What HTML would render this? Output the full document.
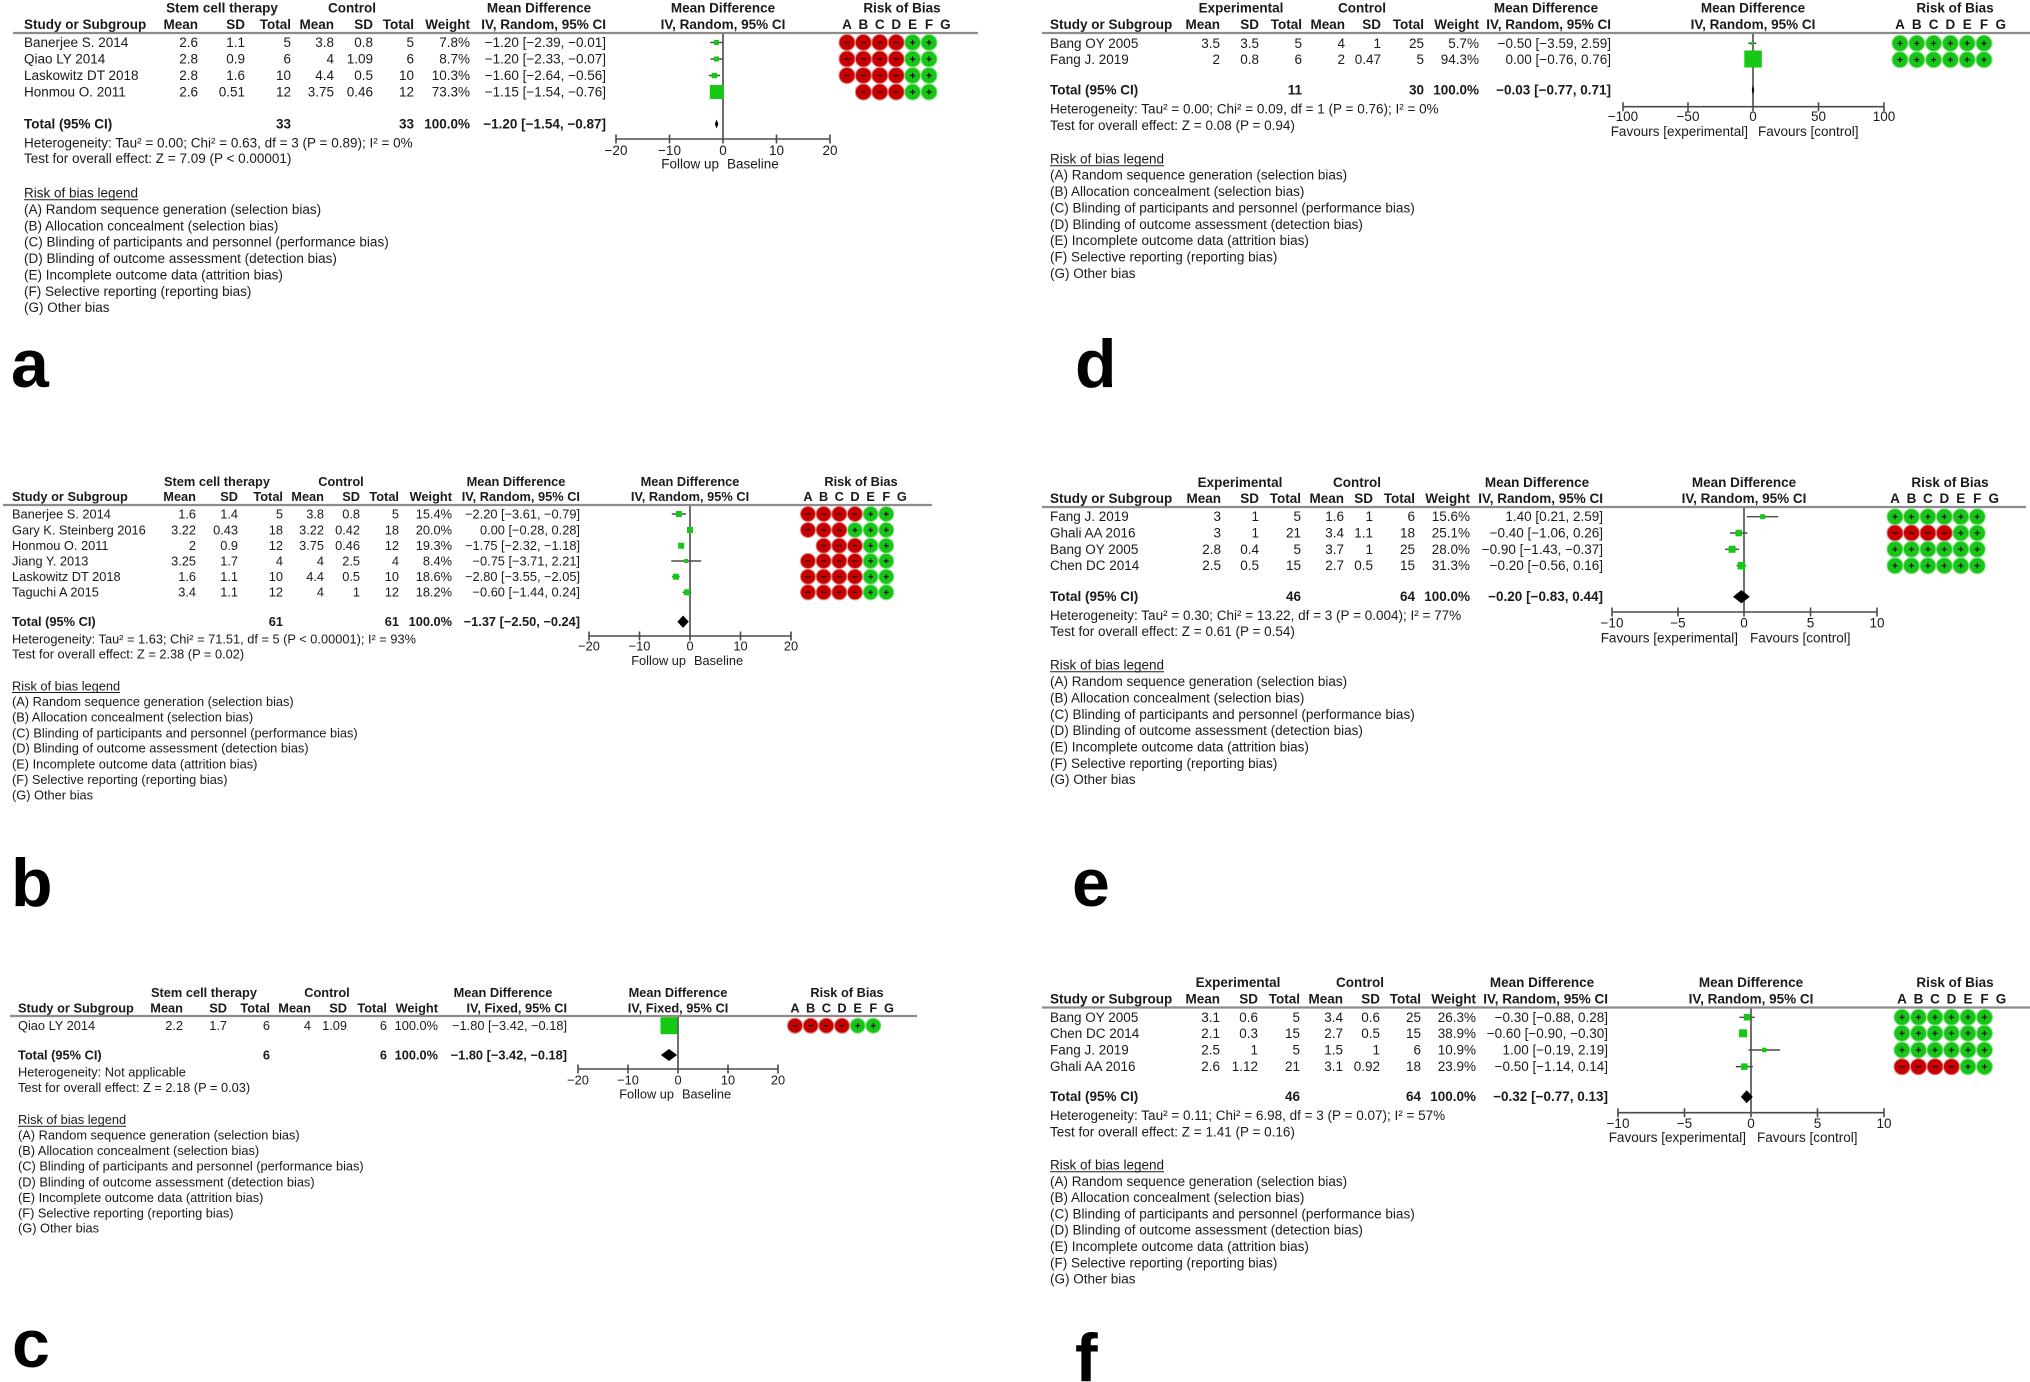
<!DOCTYPE html>
<html>
<head>
<meta charset="utf-8">
<style>
html,body{margin:0;padding:0;background:#fff;}
svg{display:block;}
text{font-family:"Liberation Sans",Arial,sans-serif;fill:#1a1a1a;}
.h{font-weight:bold;}
.m{text-anchor:middle;}
.e{text-anchor:end;}
.big{font-weight:bold;font-size:68px;fill:#000;}
</style>
</head>
<body>
<svg width="2030" height="1382" viewBox="0 0 2030 1382" xmlns="http://www.w3.org/2000/svg">
<defs>
<g id="Ra"><circle r="8" fill="#c60000" stroke="#e08080" stroke-width="1"/><path d="M-2.6 0H2.6" stroke="#111" stroke-width="1.2"/></g>
<g id="Ga"><circle r="8" fill="#18c418" stroke="#86e486" stroke-width="1"/><path d="M-2.6 0H2.6M0 -2.6V2.6" stroke="#111" stroke-width="1.2"/></g>
<g id="Rb"><circle r="7.5" fill="#c60000" stroke="#e08080" stroke-width="1"/><path d="M-2.4 0H2.4" stroke="#111" stroke-width="1.2"/></g>
<g id="Gb"><circle r="7.5" fill="#18c418" stroke="#86e486" stroke-width="1"/><path d="M-2.4 0H2.4M0 -2.4V2.4" stroke="#111" stroke-width="1.2"/></g>
</defs>
<rect width="2030" height="1382" fill="#fff"/>

<!-- ================= PANEL A ================= -->
<g font-size="13.5">
<text class="h m" x="222" y="12.5">Stem cell therapy</text>
<text class="h m" x="352" y="12.5">Control</text>
<text class="h m" x="539" y="12.5">Mean Difference</text>
<text class="h m" x="723" y="12.5">Mean Difference</text>
<text class="h m" x="902" y="12.5">Risk of Bias</text>
<text class="h" x="24" y="28.8">Study or Subgroup</text>
<text class="h e" x="198" y="28.8">Mean</text>
<text class="h e" x="245" y="28.8">SD</text>
<text class="h e" x="291" y="28.8">Total</text>
<text class="h e" x="334" y="28.8">Mean</text>
<text class="h e" x="373" y="28.8">SD</text>
<text class="h e" x="414" y="28.8">Total</text>
<text class="h e" x="470" y="28.8">Weight</text>
<text class="h e" x="606" y="28.8">IV, Random, 95% CI</text>
<text class="h m" x="723" y="28.8">IV, Random, 95% CI</text>
<text class="h m" x="847" y="28.8">A</text><text class="h m" x="863.4" y="28.8">B</text><text class="h m" x="879.8" y="28.8">C</text><text class="h m" x="896.2" y="28.8">D</text><text class="h m" x="912.6" y="28.8">E</text><text class="h m" x="929" y="28.8">F</text><text class="h m" x="945.4" y="28.8">G</text>

<text x="24" y="47">Banerjee S. 2014</text><text class="e" x="198" y="47">2.6</text><text class="e" x="245" y="47">1.1</text><text class="e" x="291" y="47">5</text><text class="e" x="334" y="47">3.8</text><text class="e" x="373" y="47">0.8</text><text class="e" x="414" y="47">5</text><text class="e" x="470" y="47">7.8%</text><text class="e" x="606" y="47">−1.20 [−2.39, −0.01]</text>
<text x="24" y="63.5">Qiao LY 2014</text><text class="e" x="198" y="63.5">2.8</text><text class="e" x="245" y="63.5">0.9</text><text class="e" x="291" y="63.5">6</text><text class="e" x="334" y="63.5">4</text><text class="e" x="373" y="63.5">1.09</text><text class="e" x="414" y="63.5">6</text><text class="e" x="470" y="63.5">8.7%</text><text class="e" x="606" y="63.5">−1.20 [−2.33, −0.07]</text>
<text x="24" y="80">Laskowitz DT 2018</text><text class="e" x="198" y="80">2.8</text><text class="e" x="245" y="80">1.6</text><text class="e" x="291" y="80">10</text><text class="e" x="334" y="80">4.4</text><text class="e" x="373" y="80">0.5</text><text class="e" x="414" y="80">10</text><text class="e" x="470" y="80">10.3%</text><text class="e" x="606" y="80">−1.60 [−2.64, −0.56]</text>
<text x="24" y="96.5">Honmou O. 2011</text><text class="e" x="198" y="96.5">2.6</text><text class="e" x="245" y="96.5">0.51</text><text class="e" x="291" y="96.5">12</text><text class="e" x="334" y="96.5">3.75</text><text class="e" x="373" y="96.5">0.46</text><text class="e" x="414" y="96.5">12</text><text class="e" x="470" y="96.5">73.3%</text><text class="e" x="606" y="96.5">−1.15 [−1.54, −0.76]</text>
<text class="h" x="24" y="128.5">Total (95% CI)</text><text class="h e" x="291" y="128.5">33</text><text class="h e" x="414" y="128.5">33</text><text class="h e" x="470" y="128.5">100.0%</text><text class="h e" x="606" y="128.5">−1.20 [−1.54, −0.87]</text>
<text x="24" y="147.5">Heterogeneity: Tau² = 0.00; Chi² = 0.63, df = 3 (P = 0.89); I² = 0%</text>
<text x="24" y="163">Test for overall effect: Z = 7.09 (P &lt; 0.00001)</text>
<text class="m" x="616" y="155">−20</text><text class="m" x="669.5" y="155">−10</text><text class="m" x="723" y="155">0</text><text class="m" x="776.5" y="155">10</text><text class="m" x="830" y="155">20</text>
<text class="e" x="719" y="168.5">Follow up</text><text x="727" y="168.5">Baseline</text>
<text x="24" y="197.5">Risk of bias legend</text>
<text x="24" y="214">(A) Random sequence generation (selection bias)</text>
<text x="24" y="230.5">(B) Allocation concealment (selection bias)</text>
<text x="24" y="246.5">(C) Blinding of participants and personnel (performance bias)</text>
<text x="24" y="263">(D) Blinding of outcome assessment (detection bias)</text>
<text x="24" y="279.5">(E) Incomplete outcome data (attrition bias)</text>
<text x="24" y="296">(F) Selective reporting (reporting bias)</text>
<text x="24" y="312">(G) Other bias</text>
</g>
<path d="M24 199.8H138" stroke="#1a1a1a" stroke-width="1"/>
<path d="M13 33H978" stroke="#8c8c8c" stroke-width="2.2"/>
<path d="M723 34V139 M616 139H830 M616 134.5V143.5 M669.5 134.5V143.5 M723 134.5V143.5 M776.5 134.5V143.5 M830 134.5V143.5" stroke="#4a4a4a" stroke-width="1.6" fill="none"/>
<path d="M710.2 42.5H722.9 M710.5 59H722.6 M708.9 75.5H720" stroke="#4a4a4a" stroke-width="1.4"/>
<rect x="714" y="40" width="5" height="5" fill="#14c814"/>
<rect x="714" y="56.5" width="5" height="5" fill="#14c814"/>
<rect x="711.7" y="72.8" width="5.5" height="5.5" fill="#14c814"/>
<rect x="709.8" y="85" width="14" height="14" fill="#14c814"/>
<path d="M716.6 119.5L718.4 124L716.6 128.5L714.8 124Z" fill="#000"/>
<g>
<use href="#Ra" x="847" y="42.5"/><use href="#Ra" x="863.4" y="42.5"/><use href="#Ra" x="879.8" y="42.5"/><use href="#Ra" x="896.2" y="42.5"/><use href="#Ga" x="912.6" y="42.5"/><use href="#Ga" x="929" y="42.5"/>
<use href="#Ra" x="847" y="59"/><use href="#Ra" x="863.4" y="59"/><use href="#Ra" x="879.8" y="59"/><use href="#Ra" x="896.2" y="59"/><use href="#Ga" x="912.6" y="59"/><use href="#Ga" x="929" y="59"/>
<use href="#Ra" x="847" y="75.5"/><use href="#Ra" x="863.4" y="75.5"/><use href="#Ra" x="879.8" y="75.5"/><use href="#Ra" x="896.2" y="75.5"/><use href="#Ga" x="912.6" y="75.5"/><use href="#Ga" x="929" y="75.5"/>
<use href="#Ra" x="863.4" y="92"/><use href="#Ra" x="879.8" y="92"/><use href="#Ra" x="896.2" y="92"/><use href="#Ga" x="912.6" y="92"/><use href="#Ga" x="929" y="92"/>
</g>
<text class="big" x="11" y="387">a</text>

<!-- ================= PANEL D ================= -->
<g font-size="13.5">
<text class="h m" x="1241" y="12.5">Experimental</text>
<text class="h m" x="1362" y="12.5">Control</text>
<text class="h m" x="1546" y="12.5">Mean Difference</text>
<text class="h m" x="1753" y="12.5">Mean Difference</text>
<text class="h m" x="1955" y="12.5">Risk of Bias</text>
<text class="h" x="1050" y="28.8">Study or Subgroup</text>
<text class="h e" x="1220" y="28.8">Mean</text>
<text class="h e" x="1259" y="28.8">SD</text>
<text class="h e" x="1302" y="28.8">Total</text>
<text class="h e" x="1345" y="28.8">Mean</text>
<text class="h e" x="1381" y="28.8">SD</text>
<text class="h e" x="1424" y="28.8">Total</text>
<text class="h e" x="1479" y="28.8">Weight</text>
<text class="h e" x="1611" y="28.8">IV, Random, 95% CI</text>
<text class="h m" x="1753" y="28.8">IV, Random, 95% CI</text>
<text class="h m" x="1900" y="28.8">A</text><text class="h m" x="1916.8" y="28.8">B</text><text class="h m" x="1933.6" y="28.8">C</text><text class="h m" x="1950.4" y="28.8">D</text><text class="h m" x="1967.2" y="28.8">E</text><text class="h m" x="1984" y="28.8">F</text><text class="h m" x="2000.8" y="28.8">G</text>
<text x="1050" y="47.8">Bang OY  2005</text><text class="e" x="1220" y="47.8">3.5</text><text class="e" x="1259" y="47.8">3.5</text><text class="e" x="1302" y="47.8">5</text><text class="e" x="1345" y="47.8">4</text><text class="e" x="1381" y="47.8">1</text><text class="e" x="1424" y="47.8">25</text><text class="e" x="1479" y="47.8">5.7%</text><text class="e" x="1611" y="47.8">−0.50 [−3.59, 2.59]</text>
<text x="1050" y="64.2">Fang J. 2019</text><text class="e" x="1220" y="64.2">2</text><text class="e" x="1259" y="64.2">0.8</text><text class="e" x="1302" y="64.2">6</text><text class="e" x="1345" y="64.2">2</text><text class="e" x="1381" y="64.2">0.47</text><text class="e" x="1424" y="64.2">5</text><text class="e" x="1479" y="64.2">94.3%</text><text class="e" x="1611" y="64.2">0.00 [−0.76, 0.76]</text>
<text class="h" x="1050" y="94.5">Total (95% CI)</text><text class="h e" x="1302" y="94.5">11</text><text class="h e" x="1424" y="94.5">30</text><text class="h e" x="1479" y="94.5">100.0%</text><text class="h e" x="1611" y="94.5">−0.03 [−0.77, 0.71]</text>
<text x="1050" y="113.5">Heterogeneity: Tau² = 0.00; Chi² = 0.09, df = 1 (P = 0.76); I² = 0%</text>
<text x="1050" y="129.8">Test for overall effect: Z = 0.08 (P = 0.94)</text>
<text class="m" x="1623" y="121.2">−100</text><text class="m" x="1688" y="121.2">−50</text><text class="m" x="1753" y="121.2">0</text><text class="m" x="1818.5" y="121.2">50</text><text class="m" x="1884" y="121.2">100</text>
<text class="e" x="1748" y="136.2">Favours [experimental]</text><text x="1758" y="136.2">Favours [control]</text>
<text x="1050" y="163.5">Risk of bias legend</text>
<text x="1050" y="179.5">(A) Random sequence generation (selection bias)</text>
<text x="1050" y="196.2">(B) Allocation concealment (selection bias)</text>
<text x="1050" y="212.5">(C) Blinding of participants and personnel (performance bias)</text>
<text x="1050" y="228.8">(D) Blinding of outcome assessment (detection bias)</text>
<text x="1050" y="245.2">(E) Incomplete outcome data (attrition bias)</text>
<text x="1050" y="261.5">(F) Selective reporting (reporting bias)</text>
<text x="1050" y="277.8">(G) Other bias</text>
</g>
<path d="M1050 165.8H1164" stroke="#1a1a1a" stroke-width="1"/>
<path d="M1042 33H2030" stroke="#8c8c8c" stroke-width="2.2"/>
<path d="M1753 34V106.7 M1623 106.7H1884 M1623 102.2V111.2 M1688 102.2V111.2 M1753 102.2V111.2 M1818.5 102.2V111.2 M1884 102.2V111.2" stroke="#4a4a4a" stroke-width="1.6" fill="none"/>
<path d="M1748.3 43.3H1756.4" stroke="#4a4a4a" stroke-width="1.4"/>
<rect x="1750.8" y="41.8" width="3" height="3" fill="#14c814"/>
<rect x="1744.3" y="50.5" width="17.5" height="17" fill="#14c814"/>
<path d="M1753 85L1754.2 90L1753 95L1751.8 90Z" fill="#000"/>
<g>
<use href="#Ga" x="1900" y="43.3"/><use href="#Ga" x="1916.8" y="43.3"/><use href="#Ga" x="1933.6" y="43.3"/><use href="#Ga" x="1950.4" y="43.3"/><use href="#Ga" x="1967.2" y="43.3"/><use href="#Ga" x="1984" y="43.3"/>
<use href="#Ga" x="1900" y="59.7"/><use href="#Ga" x="1916.8" y="59.7"/><use href="#Ga" x="1933.6" y="59.7"/><use href="#Ga" x="1950.4" y="59.7"/><use href="#Ga" x="1967.2" y="59.7"/><use href="#Ga" x="1984" y="59.7"/>
</g>
<text class="big" x="1075" y="387">d</text>

<!-- ================= PANEL B ================= -->
<g font-size="12.8">
<text class="h m" x="217" y="486">Stem cell therapy</text>
<text class="h m" x="341" y="486">Control</text>
<text class="h m" x="516" y="486">Mean Difference</text>
<text class="h m" x="690" y="486">Mean Difference</text>
<text class="h m" x="861" y="486">Risk of Bias</text>
<text class="h" x="12" y="501">Study or Subgroup</text>
<text class="h e" x="196" y="501">Mean</text>
<text class="h e" x="238" y="501">SD</text>
<text class="h e" x="283" y="501">Total</text>
<text class="h e" x="324" y="501">Mean</text>
<text class="h e" x="360" y="501">SD</text>
<text class="h e" x="399" y="501">Total</text>
<text class="h e" x="452" y="501">Weight</text>
<text class="h e" x="580" y="501">IV, Random, 95% CI</text>
<text class="h m" x="690" y="501">IV, Random, 95% CI</text>
<text class="h m" x="808" y="501">A</text><text class="h m" x="823.65" y="501">B</text><text class="h m" x="839.3" y="501">C</text><text class="h m" x="854.95" y="501">D</text><text class="h m" x="870.6" y="501">E</text><text class="h m" x="886.25" y="501">F</text><text class="h m" x="901.9" y="501">G</text>
<text x="12" y="518.3">Banerjee S. 2014</text><text class="e" x="196" y="518.3">1.6</text><text class="e" x="238" y="518.3">1.4</text><text class="e" x="283" y="518.3">5</text><text class="e" x="324" y="518.3">3.8</text><text class="e" x="360" y="518.3">0.8</text><text class="e" x="399" y="518.3">5</text><text class="e" x="452" y="518.3">15.4%</text><text class="e" x="580" y="518.3">−2.20 [−3.61, −0.79]</text>
<text x="12" y="534.3">Gary K. Steinberg 2016</text><text class="e" x="196" y="534.3">3.22</text><text class="e" x="238" y="534.3">0.43</text><text class="e" x="283" y="534.3">18</text><text class="e" x="324" y="534.3">3.22</text><text class="e" x="360" y="534.3">0.42</text><text class="e" x="399" y="534.3">18</text><text class="e" x="452" y="534.3">20.0%</text><text class="e" x="580" y="534.3">0.00 [−0.28, 0.28]</text>
<text x="12" y="550">Honmou O. 2011</text><text class="e" x="196" y="550">2</text><text class="e" x="238" y="550">0.9</text><text class="e" x="283" y="550">12</text><text class="e" x="324" y="550">3.75</text><text class="e" x="360" y="550">0.46</text><text class="e" x="399" y="550">12</text><text class="e" x="452" y="550">19.3%</text><text class="e" x="580" y="550">−1.75 [−2.32, −1.18]</text>
<text x="12" y="565.3">Jiang Y. 2013</text><text class="e" x="196" y="565.3">3.25</text><text class="e" x="238" y="565.3">1.7</text><text class="e" x="283" y="565.3">4</text><text class="e" x="324" y="565.3">4</text><text class="e" x="360" y="565.3">2.5</text><text class="e" x="399" y="565.3">4</text><text class="e" x="452" y="565.3">8.4%</text><text class="e" x="580" y="565.3">−0.75 [−3.71, 2.21]</text>
<text x="12" y="581">Laskowitz DT 2018</text><text class="e" x="196" y="581">1.6</text><text class="e" x="238" y="581">1.1</text><text class="e" x="283" y="581">10</text><text class="e" x="324" y="581">4.4</text><text class="e" x="360" y="581">0.5</text><text class="e" x="399" y="581">10</text><text class="e" x="452" y="581">18.6%</text><text class="e" x="580" y="581">−2.80 [−3.55, −2.05]</text>
<text x="12" y="596.6">Taguchi A 2015</text><text class="e" x="196" y="596.6">3.4</text><text class="e" x="238" y="596.6">1.1</text><text class="e" x="283" y="596.6">12</text><text class="e" x="324" y="596.6">4</text><text class="e" x="360" y="596.6">1</text><text class="e" x="399" y="596.6">12</text><text class="e" x="452" y="596.6">18.2%</text><text class="e" x="580" y="596.6">−0.60 [−1.44, 0.24]</text>
<text class="h" x="12" y="626">Total (95% CI)</text><text class="h e" x="283" y="626">61</text><text class="h e" x="399" y="626">61</text><text class="h e" x="452" y="626">100.0%</text><text class="h e" x="580" y="626">−1.37 [−2.50, −0.24]</text>
<text x="12" y="643.6">Heterogeneity: Tau² = 1.63; Chi² = 71.51, df = 5 (P &lt; 0.00001); I² = 93%</text>
<text x="12" y="658.6">Test for overall effect: Z = 2.38 (P = 0.02)</text>
<text class="m" x="589" y="650.3">−20</text><text class="m" x="639.5" y="650.3">−10</text><text class="m" x="690" y="650.3">0</text><text class="m" x="740.5" y="650.3">10</text><text class="m" x="791" y="650.3">20</text>
<text class="e" x="686" y="665">Follow up</text><text x="694" y="665">Baseline</text>
<text x="12" y="690.3">Risk of bias legend</text>
<text x="12" y="706">(A) Random sequence generation (selection bias)</text>
<text x="12" y="721.6">(B) Allocation concealment (selection bias)</text>
<text x="12" y="737.6">(C) Blinding of participants and personnel (performance bias)</text>
<text x="12" y="752.6">(D) Blinding of outcome assessment (detection bias)</text>
<text x="12" y="768.3">(E) Incomplete outcome data (attrition bias)</text>
<text x="12" y="784">(F) Selective reporting (reporting bias)</text>
<text x="12" y="799.3">(G) Other bias</text>
</g>
<path d="M12 692.5H120" stroke="#1a1a1a" stroke-width="1"/>
<path d="M3 505H932" stroke="#8c8c8c" stroke-width="2.2"/>
<path d="M690 506V636 M589 636H791 M589 631.5V640.5 M639.5 631.5V640.5 M690 631.5V640.5 M740.5 631.5V640.5 M791 631.5V640.5" stroke="#4a4a4a" stroke-width="1.6" fill="none"/>
<path d="M671.8 514H686 M688.6 530H691.4 M678.3 545.7H684 M671.3 561H701.2 M672.1 576.7H679.6 M682.7 592.3H691.2" stroke="#4a4a4a" stroke-width="1.4"/>
<rect x="675.9" y="511" width="6" height="6" fill="#14c814"/>
<rect x="687" y="527" width="6" height="6" fill="#14c814"/>
<rect x="678.2" y="542.7" width="6" height="6" fill="#14c814"/>
<rect x="684.2" y="559" width="4" height="4" fill="#14c814"/>
<rect x="672.9" y="573.7" width="6" height="6" fill="#14c814"/>
<rect x="684" y="589.3" width="6" height="6" fill="#14c814"/>
<path d="M683.1 615.5L688.8 621.7L683.1 627.9L677.4 621.7Z" fill="#000"/>
<g>
<use href="#Rb" x="808" y="514"/><use href="#Rb" x="823.65" y="514"/><use href="#Rb" x="839.3" y="514"/><use href="#Rb" x="854.95" y="514"/><use href="#Gb" x="870.6" y="514"/><use href="#Gb" x="886.25" y="514"/>
<use href="#Rb" x="808" y="530"/><use href="#Rb" x="823.65" y="530"/><use href="#Rb" x="839.3" y="530"/><use href="#Gb" x="854.95" y="530"/><use href="#Gb" x="870.6" y="530"/><use href="#Gb" x="886.25" y="530"/>
<use href="#Rb" x="823.65" y="545.7"/><use href="#Rb" x="839.3" y="545.7"/><use href="#Rb" x="854.95" y="545.7"/><use href="#Gb" x="870.6" y="545.7"/><use href="#Gb" x="886.25" y="545.7"/>
<use href="#Rb" x="808" y="561"/><use href="#Rb" x="823.65" y="561"/><use href="#Rb" x="839.3" y="561"/><use href="#Rb" x="854.95" y="561"/><use href="#Gb" x="870.6" y="561"/><use href="#Gb" x="886.25" y="561"/>
<use href="#Rb" x="808" y="576.7"/><use href="#Rb" x="823.65" y="576.7"/><use href="#Rb" x="839.3" y="576.7"/><use href="#Rb" x="854.95" y="576.7"/><use href="#Gb" x="870.6" y="576.7"/><use href="#Gb" x="886.25" y="576.7"/>
<use href="#Rb" x="808" y="592.3"/><use href="#Rb" x="823.65" y="592.3"/><use href="#Rb" x="839.3" y="592.3"/><use href="#Rb" x="854.95" y="592.3"/><use href="#Gb" x="870.6" y="592.3"/><use href="#Gb" x="886.25" y="592.3"/>
</g>
<text class="big" x="11" y="906">b</text>

<!-- ================= PANEL E ================= -->
<g font-size="13.5">
<text class="h m" x="1240" y="486.8">Experimental</text>
<text class="h m" x="1357" y="486.8">Control</text>
<text class="h m" x="1537" y="486.8">Mean Difference</text>
<text class="h m" x="1744" y="486.8">Mean Difference</text>
<text class="h m" x="1950" y="486.8">Risk of Bias</text>
<text class="h" x="1050" y="502.8">Study or Subgroup</text>
<text class="h e" x="1221" y="502.8">Mean</text>
<text class="h e" x="1259" y="502.8">SD</text>
<text class="h e" x="1301" y="502.8">Total</text>
<text class="h e" x="1344" y="502.8">Mean</text>
<text class="h e" x="1373" y="502.8">SD</text>
<text class="h e" x="1415" y="502.8">Total</text>
<text class="h e" x="1470" y="502.8">Weight</text>
<text class="h e" x="1603" y="502.8">IV, Random, 95% CI</text>
<text class="h m" x="1744" y="502.8">IV, Random, 95% CI</text>
<text class="h m" x="1895" y="502.8">A</text><text class="h m" x="1911.45" y="502.8">B</text><text class="h m" x="1927.9" y="502.8">C</text><text class="h m" x="1944.35" y="502.8">D</text><text class="h m" x="1960.8" y="502.8">E</text><text class="h m" x="1977.25" y="502.8">F</text><text class="h m" x="1993.7" y="502.8">G</text>
<text x="1050" y="521.2">Fang J. 2019</text><text class="e" x="1221" y="521.2">3</text><text class="e" x="1259" y="521.2">1</text><text class="e" x="1301" y="521.2">5</text><text class="e" x="1344" y="521.2">1.6</text><text class="e" x="1373" y="521.2">1</text><text class="e" x="1415" y="521.2">6</text><text class="e" x="1470" y="521.2">15.6%</text><text class="e" x="1603" y="521.2">1.40 [0.21, 2.59]</text>
<text x="1050" y="537.5">Ghali AA 2016</text><text class="e" x="1221" y="537.5">3</text><text class="e" x="1259" y="537.5">1</text><text class="e" x="1301" y="537.5">21</text><text class="e" x="1344" y="537.5">3.4</text><text class="e" x="1373" y="537.5">1.1</text><text class="e" x="1415" y="537.5">18</text><text class="e" x="1470" y="537.5">25.1%</text><text class="e" x="1603" y="537.5">−0.40 [−1.06, 0.26]</text>
<text x="1050" y="553.8">Bang OY  2005</text><text class="e" x="1221" y="553.8">2.8</text><text class="e" x="1259" y="553.8">0.4</text><text class="e" x="1301" y="553.8">5</text><text class="e" x="1344" y="553.8">3.7</text><text class="e" x="1373" y="553.8">1</text><text class="e" x="1415" y="553.8">25</text><text class="e" x="1470" y="553.8">28.0%</text><text class="e" x="1603" y="553.8">−0.90 [−1.43, −0.37]</text>
<text x="1050" y="570.2">Chen DC 2014</text><text class="e" x="1221" y="570.2">2.5</text><text class="e" x="1259" y="570.2">0.5</text><text class="e" x="1301" y="570.2">15</text><text class="e" x="1344" y="570.2">2.7</text><text class="e" x="1373" y="570.2">0.5</text><text class="e" x="1415" y="570.2">15</text><text class="e" x="1470" y="570.2">31.3%</text><text class="e" x="1603" y="570.2">−0.20 [−0.56, 0.16]</text>
<text class="h" x="1050" y="601.2">Total (95% CI)</text><text class="h e" x="1301" y="601.2">46</text><text class="h e" x="1415" y="601.2">64</text><text class="h e" x="1470" y="601.2">100.0%</text><text class="h e" x="1603" y="601.2">−0.20 [−0.83, 0.44]</text>
<text x="1050" y="619.8">Heterogeneity: Tau² = 0.30; Chi² = 13.22, df = 3 (P = 0.004); I² = 77%</text>
<text x="1050" y="636.2">Test for overall effect: Z = 0.61 (P = 0.54)</text>
<text class="m" x="1612" y="627.5">−10</text><text class="m" x="1678" y="627.5">−5</text><text class="m" x="1744" y="627.5">0</text><text class="m" x="1810.5" y="627.5">5</text><text class="m" x="1877" y="627.5">10</text>
<text class="e" x="1738" y="642.5">Favours [experimental]</text><text x="1750" y="642.5">Favours [control]</text>
<text x="1050" y="669.5">Risk of bias legend</text>
<text x="1050" y="686.2">(A) Random sequence generation (selection bias)</text>
<text x="1050" y="702.5">(B) Allocation concealment (selection bias)</text>
<text x="1050" y="718.8">(C) Blinding of participants and personnel (performance bias)</text>
<text x="1050" y="735.2">(D) Blinding of outcome assessment (detection bias)</text>
<text x="1050" y="751.5">(E) Incomplete outcome data (attrition bias)</text>
<text x="1050" y="767.8">(F) Selective reporting (reporting bias)</text>
<text x="1050" y="784.2">(G) Other bias</text>
</g>
<path d="M1050 671.8H1164" stroke="#1a1a1a" stroke-width="1"/>
<path d="M1042 507H2026" stroke="#8c8c8c" stroke-width="2.2"/>
<path d="M1744 508V612 M1612 612H1877 M1612 607.5V616.5 M1678 607.5V616.5 M1744 607.5V616.5 M1810.5 607.5V616.5 M1877 607.5V616.5" stroke="#4a4a4a" stroke-width="1.6" fill="none"/>
<path d="M1746.8 516.7H1778.3 M1730 533H1747.4 M1725 549.3H1739.1 M1736.6 565.7H1746.1" stroke="#4a4a4a" stroke-width="1.4"/>
<rect x="1760.1" y="514.2" width="5" height="5" fill="#14c814"/>
<rect x="1735.5" y="529.8" width="6.5" height="6.5" fill="#14c814"/>
<rect x="1728.6" y="545.8" width="7" height="7" fill="#14c814"/>
<rect x="1737.7" y="562" width="7.5" height="7.5" fill="#14c814"/>
<path d="M1741.4 590L1749.8 596.7L1741.4 603.4L1733 596.7Z" fill="#000"/>
<g>
<use href="#Ga" x="1895" y="516.7"/><use href="#Ga" x="1911.45" y="516.7"/><use href="#Ga" x="1927.9" y="516.7"/><use href="#Ga" x="1944.35" y="516.7"/><use href="#Ga" x="1960.8" y="516.7"/><use href="#Ga" x="1977.25" y="516.7"/>
<use href="#Ra" x="1895" y="533"/><use href="#Ra" x="1911.45" y="533"/><use href="#Ra" x="1927.9" y="533"/><use href="#Ra" x="1944.35" y="533"/><use href="#Ga" x="1960.8" y="533"/><use href="#Ga" x="1977.25" y="533"/>
<use href="#Ga" x="1895" y="549.3"/><use href="#Ga" x="1911.45" y="549.3"/><use href="#Ga" x="1927.9" y="549.3"/><use href="#Ga" x="1944.35" y="549.3"/><use href="#Ga" x="1960.8" y="549.3"/><use href="#Ga" x="1977.25" y="549.3"/>
<use href="#Ga" x="1895" y="565.7"/><use href="#Ga" x="1911.45" y="565.7"/><use href="#Ga" x="1927.9" y="565.7"/><use href="#Ga" x="1944.35" y="565.7"/><use href="#Ga" x="1960.8" y="565.7"/><use href="#Ga" x="1977.25" y="565.7"/>
</g>
<text class="big" x="1072" y="906">e</text>

<!-- ================= PANEL C ================= -->
<g font-size="12.8">
<text class="h m" x="204" y="997">Stem cell therapy</text>
<text class="h m" x="327" y="997">Control</text>
<text class="h m" x="503" y="997">Mean Difference</text>
<text class="h m" x="678" y="997">Mean Difference</text>
<text class="h m" x="847" y="997">Risk of Bias</text>
<text class="h" x="18" y="1012.3">Study or Subgroup</text>
<text class="h e" x="183" y="1012.3">Mean</text>
<text class="h e" x="227" y="1012.3">SD</text>
<text class="h e" x="270" y="1012.3">Total</text>
<text class="h e" x="311" y="1012.3">Mean</text>
<text class="h e" x="347" y="1012.3">SD</text>
<text class="h e" x="387" y="1012.3">Total</text>
<text class="h e" x="438" y="1012.3">Weight</text>
<text class="h e" x="567" y="1012.3">IV, Fixed, 95% CI</text>
<text class="h m" x="678" y="1012.3">IV, Fixed, 95% CI</text>
<text class="h m" x="795" y="1012.3">A</text><text class="h m" x="810.67" y="1012.3">B</text><text class="h m" x="826.33" y="1012.3">C</text><text class="h m" x="842" y="1012.3">D</text><text class="h m" x="857.67" y="1012.3">E</text><text class="h m" x="873.33" y="1012.3">F</text><text class="h m" x="889" y="1012.3">G</text>
<text x="18" y="1030">Qiao LY 2014</text><text class="e" x="183" y="1030">2.2</text><text class="e" x="227" y="1030">1.7</text><text class="e" x="270" y="1030">6</text><text class="e" x="311" y="1030">4</text><text class="e" x="347" y="1030">1.09</text><text class="e" x="387" y="1030">6</text><text class="e" x="438" y="1030">100.0%</text><text class="e" x="567" y="1030">−1.80 [−3.42, −0.18]</text>
<text class="h" x="18" y="1059.3">Total (95% CI)</text><text class="h e" x="270" y="1059.3">6</text><text class="h e" x="387" y="1059.3">6</text><text class="h e" x="438" y="1059.3">100.0%</text><text class="h e" x="567" y="1059.3">−1.80 [−3.42, −0.18]</text>
<text x="18" y="1076.6">Heterogeneity: Not applicable</text>
<text x="18" y="1092">Test for overall effect: Z = 2.18 (P = 0.03)</text>
<text class="m" x="578" y="1084.3">−20</text><text class="m" x="628" y="1084.3">−10</text><text class="m" x="678" y="1084.3">0</text><text class="m" x="728" y="1084.3">10</text><text class="m" x="778" y="1084.3">20</text>
<text class="e" x="674" y="1098.3">Follow up</text><text x="682" y="1098.3">Baseline</text>
<text x="18" y="1124">Risk of bias legend</text>
<text x="18" y="1139.6">(A) Random sequence generation (selection bias)</text>
<text x="18" y="1155">(B) Allocation concealment (selection bias)</text>
<text x="18" y="1170.6">(C) Blinding of participants and personnel (performance bias)</text>
<text x="18" y="1186.3">(D) Blinding of outcome assessment (detection bias)</text>
<text x="18" y="1202">(E) Incomplete outcome data (attrition bias)</text>
<text x="18" y="1217.3">(F) Selective reporting (reporting bias)</text>
<text x="18" y="1232.6">(G) Other bias</text>
</g>
<path d="M18 1126.2H126" stroke="#1a1a1a" stroke-width="1"/>
<path d="M10 1016H917" stroke="#8c8c8c" stroke-width="2.2"/>
<path d="M678 1017V1069 M578 1069H778 M578 1064.5V1073.5 M628 1064.5V1073.5 M678 1064.5V1073.5 M728 1064.5V1073.5 M778 1064.5V1073.5" stroke="#4a4a4a" stroke-width="1.6" fill="none"/>
<rect x="660.5" y="1017.2" width="17" height="17" fill="#14c814"/>
<path d="M669 1049L677.1 1055L669 1061L660.9 1055Z" fill="#000"/>
<g>
<use href="#Rb" x="795" y="1025.7"/><use href="#Rb" x="810.67" y="1025.7"/><use href="#Rb" x="826.33" y="1025.7"/><use href="#Rb" x="842" y="1025.7"/><use href="#Gb" x="857.67" y="1025.7"/><use href="#Gb" x="873.33" y="1025.7"/>
</g>
<text class="big" x="12" y="1367">c</text>

<!-- ================= PANEL F ================= -->
<g font-size="13.5">
<text class="h m" x="1238" y="987.2">Experimental</text>
<text class="h m" x="1360" y="987.2">Control</text>
<text class="h m" x="1542" y="987.2">Mean Difference</text>
<text class="h m" x="1751" y="987.2">Mean Difference</text>
<text class="h m" x="1955" y="987.2">Risk of Bias</text>
<text class="h" x="1050" y="1003.5">Study or Subgroup</text>
<text class="h e" x="1220" y="1003.5">Mean</text>
<text class="h e" x="1258" y="1003.5">SD</text>
<text class="h e" x="1300" y="1003.5">Total</text>
<text class="h e" x="1343" y="1003.5">Mean</text>
<text class="h e" x="1380" y="1003.5">SD</text>
<text class="h e" x="1421" y="1003.5">Total</text>
<text class="h e" x="1476" y="1003.5">Weight</text>
<text class="h e" x="1608" y="1003.5">IV, Random, 95% CI</text>
<text class="h m" x="1751" y="1003.5">IV, Random, 95% CI</text>
<text class="h m" x="1902" y="1003.5">A</text><text class="h m" x="1918.5" y="1003.5">B</text><text class="h m" x="1935" y="1003.5">C</text><text class="h m" x="1951.5" y="1003.5">D</text><text class="h m" x="1968" y="1003.5">E</text><text class="h m" x="1984.5" y="1003.5">F</text><text class="h m" x="2001" y="1003.5">G</text>
<text x="1050" y="1021.8">Bang OY  2005</text><text class="e" x="1220" y="1021.8">3.1</text><text class="e" x="1258" y="1021.8">0.6</text><text class="e" x="1300" y="1021.8">5</text><text class="e" x="1343" y="1021.8">3.4</text><text class="e" x="1380" y="1021.8">0.6</text><text class="e" x="1421" y="1021.8">25</text><text class="e" x="1476" y="1021.8">26.3%</text><text class="e" x="1608" y="1021.8">−0.30 [−0.88, 0.28]</text>
<text x="1050" y="1037.8">Chen DC 2014</text><text class="e" x="1220" y="1037.8">2.1</text><text class="e" x="1258" y="1037.8">0.3</text><text class="e" x="1300" y="1037.8">15</text><text class="e" x="1343" y="1037.8">2.7</text><text class="e" x="1380" y="1037.8">0.5</text><text class="e" x="1421" y="1037.8">15</text><text class="e" x="1476" y="1037.8">38.9%</text><text class="e" x="1608" y="1037.8">−0.60 [−0.90, −0.30]</text>
<text x="1050" y="1054.5">Fang J. 2019</text><text class="e" x="1220" y="1054.5">2.5</text><text class="e" x="1258" y="1054.5">1</text><text class="e" x="1300" y="1054.5">5</text><text class="e" x="1343" y="1054.5">1.5</text><text class="e" x="1380" y="1054.5">1</text><text class="e" x="1421" y="1054.5">6</text><text class="e" x="1476" y="1054.5">10.9%</text><text class="e" x="1608" y="1054.5">1.00 [−0.19, 2.19]</text>
<text x="1050" y="1071.2">Ghali AA 2016</text><text class="e" x="1220" y="1071.2">2.6</text><text class="e" x="1258" y="1071.2">1.12</text><text class="e" x="1300" y="1071.2">21</text><text class="e" x="1343" y="1071.2">3.1</text><text class="e" x="1380" y="1071.2">0.92</text><text class="e" x="1421" y="1071.2">18</text><text class="e" x="1476" y="1071.2">23.9%</text><text class="e" x="1608" y="1071.2">−0.50 [−1.14, 0.14]</text>
<text class="h" x="1050" y="1101.2">Total (95% CI)</text><text class="h e" x="1300" y="1101.2">46</text><text class="h e" x="1421" y="1101.2">64</text><text class="h e" x="1476" y="1101.2">100.0%</text><text class="h e" x="1608" y="1101.2">−0.32 [−0.77, 0.13]</text>
<text x="1050" y="1119.8">Heterogeneity: Tau² = 0.11; Chi² = 6.98, df = 3 (P = 0.07); I² = 57%</text>
<text x="1050" y="1136.5">Test for overall effect: Z = 1.41 (P = 0.16)</text>
<text class="m" x="1618" y="1127.8">−10</text><text class="m" x="1684.5" y="1127.8">−5</text><text class="m" x="1751" y="1127.8">0</text><text class="m" x="1817.5" y="1127.8">5</text><text class="m" x="1884" y="1127.8">10</text>
<text class="e" x="1746" y="1142.2">Favours [experimental]</text><text x="1757" y="1142.2">Favours [control]</text>
<text x="1050" y="1169.5">Risk of bias legend</text>
<text x="1050" y="1185.8">(A) Random sequence generation (selection bias)</text>
<text x="1050" y="1202.2">(B) Allocation concealment (selection bias)</text>
<text x="1050" y="1218.5">(C) Blinding of participants and personnel (performance bias)</text>
<text x="1050" y="1234.5">(D) Blinding of outcome assessment (detection bias)</text>
<text x="1050" y="1251.2">(E) Incomplete outcome data (attrition bias)</text>
<text x="1050" y="1267.5">(F) Selective reporting (reporting bias)</text>
<text x="1050" y="1283.5">(G) Other bias</text>
</g>
<path d="M1050 1171.8H1164" stroke="#1a1a1a" stroke-width="1"/>
<path d="M1042 1007.5H2030" stroke="#8c8c8c" stroke-width="2.2"/>
<path d="M1751 1008.5V1112.7 M1618 1112.7H1884 M1618 1108.2V1117.2 M1684.5 1108.2V1117.2 M1751 1108.2V1117.2 M1817.5 1108.2V1117.2 M1884 1108.2V1117.2" stroke="#4a4a4a" stroke-width="1.6" fill="none"/>
<path d="M1739.3 1017.3H1754.7 M1739 1033.3H1747 M1748.5 1050H1780.1 M1735.8 1066.7H1752.9" stroke="#4a4a4a" stroke-width="1.4"/>
<rect x="1743.7" y="1014" width="6.5" height="6.5" fill="#14c814"/>
<rect x="1739" y="1029.3" width="8" height="8" fill="#14c814"/>
<rect x="1762" y="1047.7" width="4.5" height="4.5" fill="#14c814"/>
<rect x="1741.1" y="1063.4" width="6.5" height="6.5" fill="#14c814"/>
<path d="M1746.7 1090.2L1752.7 1096.7L1746.7 1103.2L1740.8 1096.7Z" fill="#000"/>
<g>
<use href="#Ga" x="1902" y="1017.3"/><use href="#Ga" x="1918.5" y="1017.3"/><use href="#Ga" x="1935" y="1017.3"/><use href="#Ga" x="1951.5" y="1017.3"/><use href="#Ga" x="1968" y="1017.3"/><use href="#Ga" x="1984.5" y="1017.3"/>
<use href="#Ga" x="1902" y="1033.3"/><use href="#Ga" x="1918.5" y="1033.3"/><use href="#Ga" x="1935" y="1033.3"/><use href="#Ga" x="1951.5" y="1033.3"/><use href="#Ga" x="1968" y="1033.3"/><use href="#Ga" x="1984.5" y="1033.3"/>
<use href="#Ga" x="1902" y="1050"/><use href="#Ga" x="1918.5" y="1050"/><use href="#Ga" x="1935" y="1050"/><use href="#Ga" x="1951.5" y="1050"/><use href="#Ga" x="1968" y="1050"/><use href="#Ga" x="1984.5" y="1050"/>
<use href="#Ra" x="1902" y="1066.7"/><use href="#Ra" x="1918.5" y="1066.7"/><use href="#Ra" x="1935" y="1066.7"/><use href="#Ra" x="1951.5" y="1066.7"/><use href="#Ga" x="1968" y="1066.7"/><use href="#Ga" x="1984.5" y="1066.7"/>
</g>
<text class="big" x="1075" y="1381">f</text>
</svg>
</body>
</html>
